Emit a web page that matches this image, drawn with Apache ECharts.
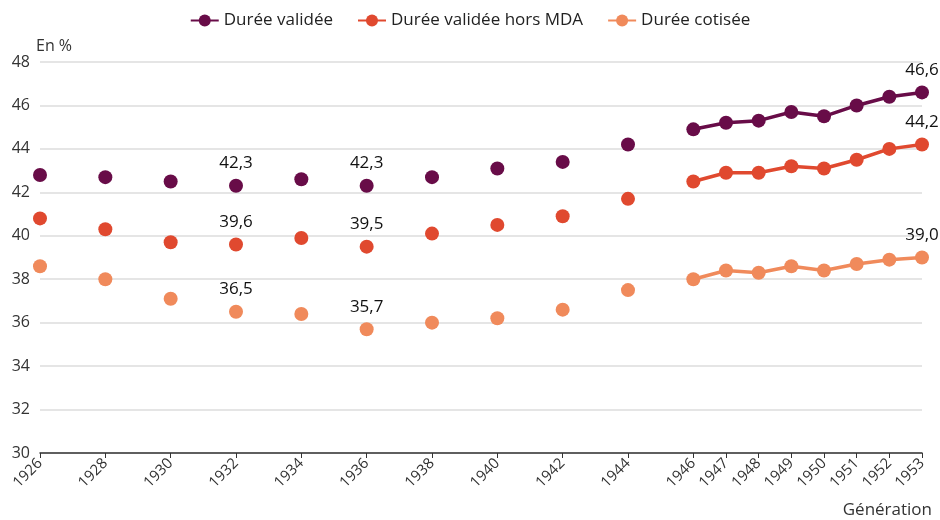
<!DOCTYPE html>
<html>
<head>
<meta charset="utf-8">
<script src="https://cdn.jsdelivr.net/npm/echarts@6/dist/echarts.min.js"></script>
<style>
  html, body { margin: 0; padding: 0; background: #fff; }
  #chart { width: 940px; height: 520px; }
</style>
</head>
<body>
<div id="chart"></div>
<script>
// générations 1926 -> 1953 (années impaires avant 1946 : pas de donnée)
const years = [];
for (let y = 1926; y <= 1953; y++) years.push(String(y));

const dureeValidee = [42.8, null, 42.7, null, 42.5, null, 42.3, null, 42.6, null, 42.3, null, 42.7, null, 43.1, null, 43.4, null, 44.2, null,
  44.9, 45.2, 45.3, 45.7, 45.5, 46.0, 46.4, 46.6];
const dureeHorsMDA = [40.8, null, 40.3, null, 39.7, null, 39.6, null, 39.9, null, 39.5, null, 40.1, null, 40.5, null, 40.9, null, 41.7, null,
  42.5, 42.9, 42.9, 43.2, 43.1, 43.5, 44.0, 44.2];
const dureeCotisee = [38.6, null, 38.0, null, 37.1, null, 36.5, null, 36.4, null, 35.7, null, 36.0, null, 36.2, null, 36.6, null, 37.5, null,
  38.0, 38.4, 38.3, 38.6, 38.4, 38.7, 38.9, 39.0];

const labelledYears = ['1932', '1936', '1953'];
const seriesNames = ['Durée validée', 'Durée validée hors MDA', 'Durée cotisée'];
const colors = ['#680c48', '#e0492f', '#f08a5b'];

const shownYear = (i, v) => Number(v) >= 1946 || Number(v) % 2 === 0;

function makeData(values) {
  return values.map((v, i) => {
    if (v === null) return null;
    if (labelledYears.indexOf(years[i]) >= 0) {
      return {
        value: v,
        label: {
          show: true,
          position: 'top',
          distance: 7,
          formatter: p => p.value.toFixed(1).replace('.', ','),
          color: '#111',
          fontSize: 17,
          fontWeight: 500,
          fontFamily: 'Open Sans'
        }
      };
    }
    return v;
  });
}

const chart = echarts.init(document.getElementById('chart'));
chart.setOption({
  animation: false,
  color: colors,
  textStyle: { fontFamily: 'Open Sans' },
  legend: {
    top: 7,
    left: 'center',
    itemWidth: 28,
    itemHeight: 15,
    itemGap: 24,
    textStyle: { fontSize: 17, color: '#222' },
    data: seriesNames
  },
  grid: { left: 40, right: 18, top: 62, bottom: 67, containLabel: false },
  xAxis: {
    type: 'category',
    data: years,
    boundaryGap: false,
    name: 'Génération',
    nameLocation: 'end',
    nameGap: 0,
    nameTextStyle: { align: 'right', verticalAlign: 'top', padding: [49, -10, 0, 0], fontSize: 17, color: '#333' },
    axisLine: { lineStyle: { color: '#333', width: 1.5 } },
    axisTick: { show: true, interval: shownYear, length: 5, lineStyle: { color: '#333' } },
    axisLabel: { interval: shownYear, rotate: 45, fontSize: 15, color: '#333', margin: 8 },
    splitLine: { show: false }
  },
  yAxis: {
    type: 'value',
    min: 30,
    max: 48,
    interval: 2,
    name: 'En %',
    nameLocation: 'end',
    nameGap: 8,
    nameTextStyle: { align: 'left', padding: [0, 0, 0, -4], fontSize: 16, color: '#333' },
    axisLine: { show: false },
    axisTick: { show: false },
    axisLabel: { fontSize: 16, color: '#333', margin: 10 },
    splitLine: { lineStyle: { color: '#dcdcdc', width: 1.5 } }
  },
  series: [dureeValidee, dureeHorsMDA, dureeCotisee].map((vals, k) => ({
    name: seriesNames[k],
    type: 'line',
    data: makeData(vals),
    connectNulls: false,
    symbol: 'circle',
    symbolSize: 14,
    showAllSymbol: true,
    lineStyle: { width: 3.5, color: colors[k] },
    itemStyle: { color: colors[k] }
  }))
});
</script>
</body>
</html>
